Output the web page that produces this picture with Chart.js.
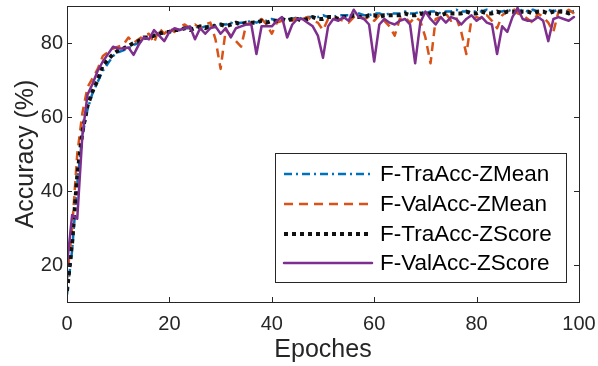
<!DOCTYPE html>
<html>
<head>
<meta charset="utf-8">
<script src="https://cdn.jsdelivr.net/npm/chart.js@4.4.1/dist/chart.umd.min.js"></script>
<style>
  html, body { margin: 0; padding: 0; background: #fff; }
  #wrap { width: 598px; height: 366px; }
</style>
</head>
<body>
<div id="wrap"><canvas id="accChart" width="598" height="366"></canvas></div>
<script>
// accuracy per epoch (index = epoch 0..99)
const traZMean = [
  12, 24, 42, 55, 62, 66.5, 69.5, 72.5, 74.5, 76.5,
  77.5, 78, 78.5, 79.5, 80, 81, 81.5, 82, 82.5, 82.5,
  83, 83.5, 83.5, 84, 84, 84.5, 84, 84.5, 84.5, 85,
  85, 85, 85.5, 85, 85.5, 85.5, 86, 85.5, 86, 86,
  86.5, 86, 86.5, 86.5, 86.5, 87, 86.5, 87, 87, 87,
  87.5, 87, 87, 87.5, 87.5, 87.5, 87.5, 88, 87.5, 87.5,
  88, 88, 87.5, 88, 88, 88, 88.5, 88, 88, 88.5,
  88, 88.5, 88.5, 88, 88.5, 88.5, 89, 88.5, 88.5, 88.5,
  88.5, 88.5, 89, 88.5, 88.5, 88.5, 89, 88.5, 88.5, 89,
  88.5, 89, 88.5, 88.5, 89, 88.5, 89, 88.5, 88.5, 88.5
];
const valZMean = [
  16, 30, 50, 61, 68, 70.5, 73, 76.5, 77.5, 78.5,
  79, 79.5, 81.5, 80, 81, 82, 82.5, 80, 84, 82.5,
  84, 83, 84.5, 85, 84, 85, 84, 85, 85.5, 81,
  73, 83.5, 82, 80.5, 79, 85, 85.5, 86, 86.5, 85,
  82.5, 85.5, 86, 86.5, 86, 87, 86.5, 87, 86, 85.5,
  83.5, 86.5, 87, 86.5, 86, 85.5, 87, 87.5, 86.5, 87,
  86, 87.5, 86, 84.5, 82, 86.5, 87, 85.5, 87, 86,
  81.5, 74.5, 86.5, 87, 88, 86, 87, 83, 77, 86.5,
  87, 86.5, 87.5, 86, 84, 87.5, 88.5, 89.5, 88, 87.5,
  86.5, 85.5, 88, 87, 85.5, 83, 88.5, 88, 89, 88
];
const traZScore = [
  13, 26, 44, 56, 63, 67, 70, 74, 75.5, 77,
  78, 78.5, 79.2, 80, 80.5, 81.5, 81.5, 82, 82.5, 83,
  83, 83.5, 83.5, 84, 83.5, 84, 84.5, 84, 84.5, 84.5,
  85, 84.5, 85, 85.5, 85, 85.5, 85.5, 85.5, 86, 85.5,
  86, 86, 86.5, 86, 86.5, 86.5, 86, 86.5, 87, 86.5,
  86.5, 87, 87, 86.5, 87, 87, 87.5, 87, 87, 87.5,
  87.5, 87, 87.5, 87.5, 87.5, 87.5, 88, 87.5, 87.5, 88,
  87.5, 88, 88, 87.5, 88, 88, 88, 88, 88.5, 88,
  88, 88.5, 88, 88, 88.5, 88, 88.5, 88.5, 88, 88.5,
  88.5, 88, 88.5, 88.5, 88, 88.5, 88.5, 88.5, 88, 88.5
];
const valZScore = [
  20, 33.5, 32.5, 55, 66, 69, 72.5, 75, 77, 79,
  78.5, 78.5, 78.8, 76.8, 79.5, 81.5, 81, 83.5, 82, 80.5,
  83, 84, 83.5, 84, 84.5, 81, 84, 82.5, 84, 84.5,
  82.5, 84, 81.5, 84, 84.5, 85, 85, 77, 84.5, 84.5,
  84.5, 86, 87, 81.5, 85, 86.5, 86.5, 85.5, 84.5, 82,
  76, 84.5, 86.5, 86, 87, 86, 89, 87, 86.5, 85,
  75, 85, 86.5, 85.5, 85, 86, 86.5, 85, 74.5, 85.5,
  88.5, 86.5, 85, 87, 85.5, 87, 86.5, 85, 86.5, 87.5,
  86, 87, 85.5, 85, 77, 84.5, 83, 87, 89.5, 86.5,
  86, 86, 87, 86, 80.5, 86.5, 87, 86.5, 86, 87
];

const xTicks = [0, 20, 40, 60, 80, 100];
const yTicks = [20, 40, 60, 80];

const seriesNames = ['F-TraAcc-ZMean', 'F-ValAcc-ZMean', 'F-TraAcc-ZScore', 'F-ValAcc-ZScore'];

const FONT = "'Liberation Sans', Arial, Helvetica, sans-serif";
const AXIS = '#262626';

const styles = [
  { color: '#0072BD', width: 2.5, dash: [8, 4, 2, 4], cap: 'butt' },
  { color: '#D95319', width: 2.5, dash: [9, 6], cap: 'butt' },
  { color: '#111111', width: 4, dash: [4, 4], cap: 'butt' },
  { color: '#7E2F8E', width: 2.5, dash: [], cap: 'round' }
];

function toPoints(arr) {
  return arr.map((v, i) => ({ x: i, y: v }));
}

// MATLAB-like box, inward ticks and in-axes legend
const matlabAxes = {
  id: 'matlabAxes',
  afterDraw(chart) {
    const { ctx, chartArea: a, scales: { x, y } } = chart;
    ctx.save();
    ctx.strokeStyle = AXIS;
    ctx.lineWidth = 1;
    ctx.setLineDash([]);
    ctx.beginPath();
    xTicks.forEach(v => {
      const px = Math.round(x.getPixelForValue(v)) + 0.5;
      ctx.moveTo(px, a.bottom); ctx.lineTo(px, a.bottom - 5);
      ctx.moveTo(px, a.top); ctx.lineTo(px, a.top + 5);
    });
    yTicks.forEach(v => {
      const py = Math.round(y.getPixelForValue(v)) + 0.5;
      ctx.moveTo(a.left, py); ctx.lineTo(a.left + 5, py);
      ctx.moveTo(a.right, py); ctx.lineTo(a.right - 5, py);
    });
    ctx.stroke();
    ctx.strokeRect(Math.round(a.left) + 0.5, Math.round(a.top) + 0.5,
      Math.round(a.right - a.left), Math.round(a.bottom - a.top));

    // legend box
    const lx = 275, ly = 153, lw = 291, lh = 129;
    ctx.fillStyle = '#fff';
    ctx.fillRect(lx, ly, lw, lh);
    ctx.strokeStyle = AXIS;
    ctx.strokeRect(lx + 0.5, ly + 0.5, lw, lh);
    const rows = [174, 204, 234, 263];
    ctx.font = '22.5px ' + FONT;
    ctx.textBaseline = 'middle';
    ctx.textAlign = 'left';
    seriesNames.forEach((name, i) => {
      const s = styles[i];
      ctx.beginPath();
      ctx.strokeStyle = s.color;
      ctx.lineWidth = s.width;
      ctx.lineCap = s.cap;
      ctx.setLineDash(s.dash);
      ctx.moveTo(284, rows[i]);
      ctx.lineTo(372, rows[i]);
      ctx.stroke();
      ctx.fillStyle = '#000';
      ctx.fillText(name, 380, rows[i] + 1);
    });
    ctx.restore();
  }
};

const order = [3, 2, 1, 0];
const seriesData = [traZMean, valZMean, traZScore, valZScore];

new Chart(document.getElementById('accChart'), {
  type: 'line',
  data: {
    datasets: seriesData.map((arr, i) => ({
      label: seriesNames[i],
      data: toPoints(arr),
      borderColor: styles[i].color,
      borderWidth: styles[i].width,
      borderDash: styles[i].dash,
      borderCapStyle: styles[i].cap,
      borderJoinStyle: 'round',
      pointRadius: 0,
      tension: 0,
      fill: false,
      order: order[i]
    }))
  },
  options: {
    responsive: false,
    animation: false,
    layout: { padding: { top: 6, right: 19, left: 0, bottom: 0 } },
    plugins: { legend: { display: false }, tooltip: { enabled: false } },
    scales: {
      x: {
        type: 'linear',
        min: 0,
        max: 100,
        afterBuildTicks: s => { s.ticks = xTicks.map(v => ({ value: v })); },
        afterFit: s => { s.height = 64; s.paddingLeft = 0; s.paddingRight = 0; },
        grid: { display: false, drawTicks: false },
        border: { display: false },
        ticks: { color: AXIS, font: { family: FONT, size: 20 }, padding: 10, maxRotation: 0 },
        title: {
          display: true, text: 'Epoches', color: AXIS,
          font: { family: FONT, size: 25, lineHeight: 1 },
          padding: { top: 0, bottom: 3 }
        }
      },
      y: {
        type: 'linear',
        min: 10,
        max: 90,
        afterBuildTicks: s => { s.ticks = yTicks.map(v => ({ value: v })); },
        afterFit: s => { s.width = 67; s.paddingTop = 0; s.paddingBottom = 0; },
        grid: { display: false, drawTicks: false },
        border: { display: false },
        ticks: { color: AXIS, font: { family: FONT, size: 20 }, padding: 4 },
        title: {
          display: true, text: 'Accuracy (%)', color: AXIS,
          font: { family: FONT, size: 25, lineHeight: 1 },
          padding: { top: 14, bottom: 0 }
        }
      }
    }
  },
  plugins: [matlabAxes]
});
</script>
</body>
</html>
